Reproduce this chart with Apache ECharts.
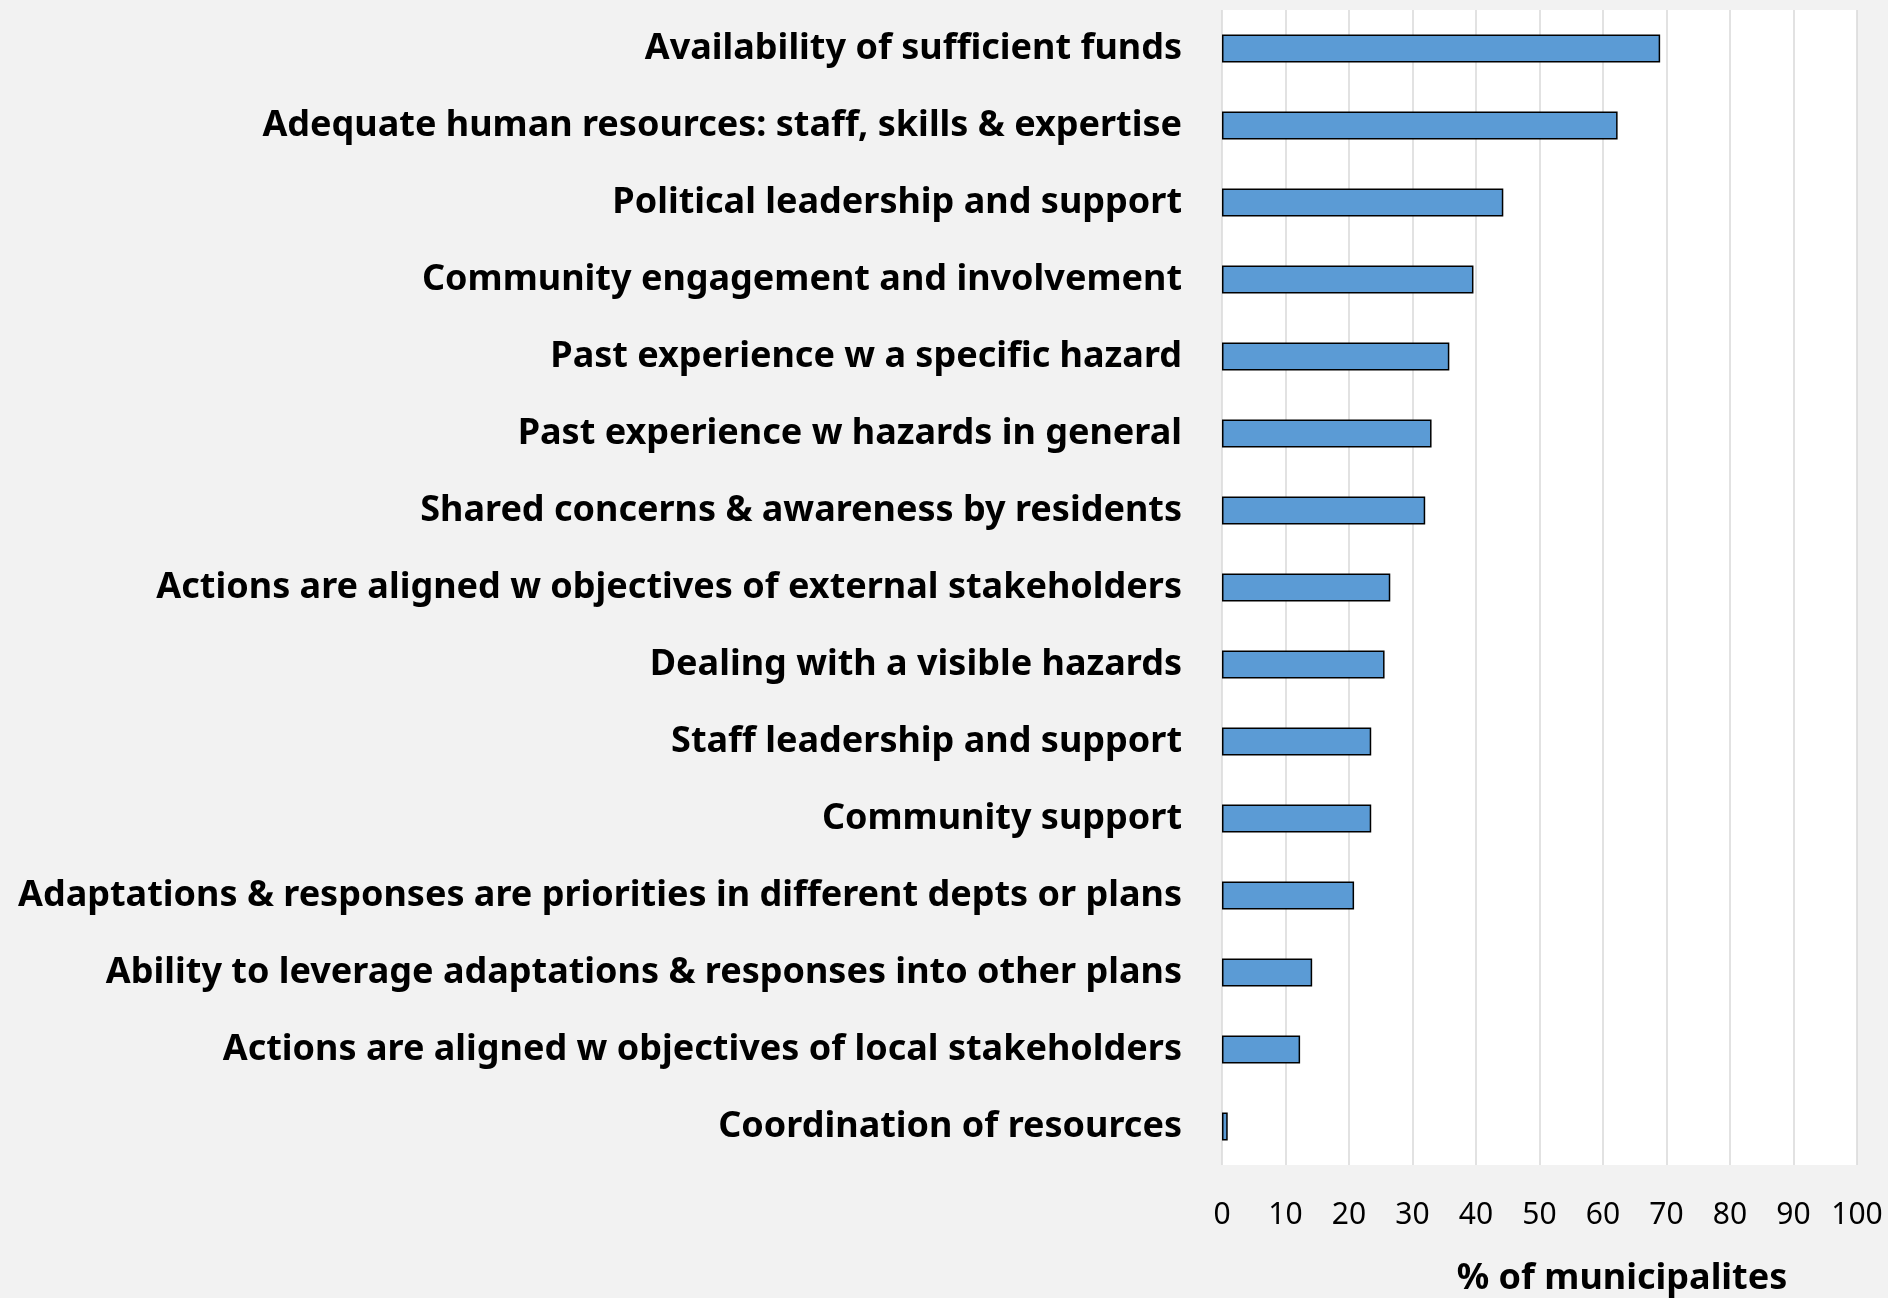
<!DOCTYPE html>
<html><head><meta charset="utf-8">
<script src="https://cdn.jsdelivr.net/npm/echarts@6/dist/echarts.min.js"></script>
<style>html,body{margin:0;padding:0;background:#f2f2f2}#c{width:1888px;height:1298px}</style>
</head><body><div id="c"></div>
<script>
const categories = [
  "Availability of sufficient funds",
  "Adequate human resources: staff, skills & expertise",
  "Political leadership and support",
  "Community engagement and involvement",
  "Past experience w a specific hazard",
  "Past experience w hazards in general",
  "Shared concerns & awareness by residents",
  "Actions are aligned w objectives of external stakeholders",
  "Dealing with a visible hazards",
  "Staff leadership and support",
  "Community support",
  "Adaptations & responses are priorities in different depts or plans",
  "Ability to leverage adaptations & responses into other plans",
  "Actions are aligned w objectives of local stakeholders",
  "Coordination of resources"
];
const values = [69.0, 62.3, 44.3, 39.6, 35.8, 33.0, 32.0, 26.5, 25.6, 23.5, 23.5, 20.8, 14.2, 12.3, 0.9];
const xTicks = [0, 10, 20, 30, 40, 50, 60, 70, 80, 90, 100];
const axisTitle = "% of municipalites";

const chart = echarts.init(document.getElementById('c'), null, {renderer: 'canvas'});
const FONT = "'Noto Sans', 'DejaVu Sans', sans-serif";
chart.setOption({
  backgroundColor: '#f2f2f2',
  animation: false,
  grid: {left: 1222, right: 31, top: 10, bottom: 133, containLabel: false,
         show: true, backgroundColor: '#ffffff', borderWidth: 0},
  xAxis: {
    type: 'value', min: xTicks[0], max: xTicks[xTicks.length - 1], interval: 10,
    axisLine: {show: false}, axisTick: {show: false},
    splitLine: {show: true, lineStyle: {color: '#d9d9d9', width: 1.5}},
    axisLabel: {fontFamily: FONT, fontSize: 30, color: '#000', margin: 35,
      formatter: v => xTicks.includes(v) ? String(v) : ''}
  },
  yAxis: {
    type: 'category', data: categories, inverse: true,
    axisLine: {show: false}, axisTick: {show: false},
    axisLabel: {fontFamily: FONT, fontSize: 36, fontWeight: 'bold', color: '#000', margin: 40,
      padding: [5, 0, 0, 0]}
  },
  series: [{
    type: 'bar', data: values, barWidth: 28,
    itemStyle: {color: '#5b9bd5', borderColor: '#000', borderWidth: 1.5}
  }],
  graphic: [{
    type: 'text', x: 1622, y: 1279,
    style: {text: axisTitle, font: "bold 36px " + FONT, fill: '#000',
            textAlign: 'center', textVerticalAlign: 'middle'}
  }]
});
</script></body></html>
